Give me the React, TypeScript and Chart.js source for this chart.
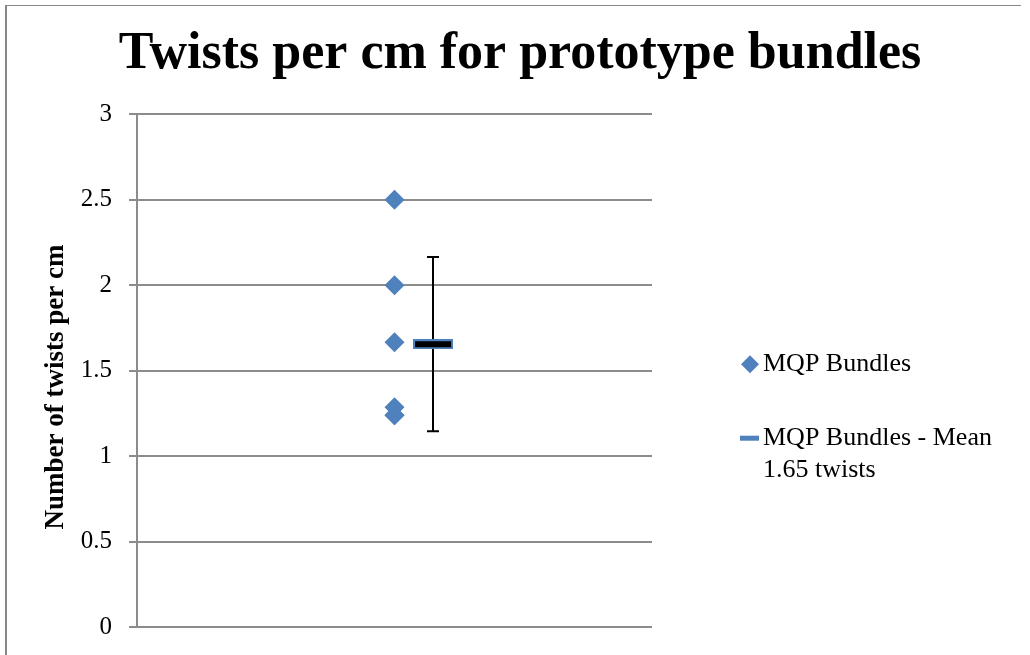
import { useEffect, useRef } from 'react';
import { Chart, registerables } from 'chart.js';

Chart.register(...registerables);

const TITLE = 'Twists per cm for prototype bundles';
const Y_TITLE = 'Number of twists per cm';
const Y_TICK_LABELS = ['0', '0.5', '1', '1.5', '2', '2.5', '3'];
const SERIES_NAMES = ['MQP Bundles', 'MQP Bundles - Mean'];
const MEAN_NOTE = '1.65 twists';

const BUNDLE_X = [1, 1, 1, 1, 1, 1];
const BUNDLE_VALUES = [2.5, 2.0, 1.667, 1.286, 1.24, 1.24];
const MEAN_X = [1.15];
const MEAN_VALUES = [1.655];
const MEAN_ERROR = [0.51];

const SERIF = '"Liberation Serif", "Times New Roman", serif';
const BLUE = '#4F81BD';
const GRID = '#8c8c8c';
const FRAME = '#878787';

function makeMeanMarker(): HTMLCanvasElement {
  const c = document.createElement('canvas');
  c.width = 40;
  c.height = 10;
  const g = c.getContext('2d')!;
  g.fillStyle = BLUE;
  g.fillRect(0, 0, 40, 10);
  g.fillStyle = '#000';
  g.fillRect(2, 2, 36, 6);
  return c;
}

const framePlugin = {
  id: 'frame',
  beforeDraw(chart: any) {
    const ctx = chart.ctx;
    ctx.save();
    ctx.fillStyle = '#fff';
    ctx.fillRect(0, 0, chart.width, chart.height);
    ctx.fillStyle = FRAME;
    ctx.fillRect(5, 5, 1016, 1);
    ctx.fillRect(5, 5, 2, chart.height);
    ctx.restore();
  },
};

const errorBarPlugin = {
  id: 'errorBars',
  beforeDatasetsDraw(chart: any) {
    const ctx = chart.ctx;
    const xs = chart.scales.x;
    const ys = chart.scales.y;
    ctx.save();
    ctx.strokeStyle = '#000';
    ctx.lineWidth = 2;
    MEAN_VALUES.forEach((m, i) => {
      const x = Math.round(xs.getPixelForValue(MEAN_X[i]));
      const yTop = ys.getPixelForValue(m + MEAN_ERROR[i]);
      const yBot = ys.getPixelForValue(m - MEAN_ERROR[i]);
      ctx.beginPath();
      ctx.moveTo(x, yTop);
      ctx.lineTo(x, yBot);
      ctx.moveTo(x - 6, yTop);
      ctx.lineTo(x + 6, yTop);
      ctx.moveTo(x - 6, yBot);
      ctx.lineTo(x + 6, yBot);
      ctx.stroke();
    });
    ctx.restore();
  },
};

const annotationsPlugin = {
  id: 'customText',
  afterDraw(chart: any) {
    const ctx = chart.ctx;
    const ca = chart.chartArea;
    ctx.save();
    // y axis title
    ctx.translate(63, 387);
    ctx.rotate(-Math.PI / 2);
    ctx.font = `bold 27px ${SERIF}`;
    ctx.fillStyle = '#000';
    ctx.textAlign = 'center';
    ctx.textBaseline = 'alphabetic';
    ctx.fillText(Y_TITLE, 0, 0);
    ctx.restore();

    // legend
    const mid = (ca.top + ca.bottom) / 2;
    const mx = ca.right + 98;
    const tx = ca.right + 111;
    const y1 = mid - 6.5;
    const y2 = mid + 67.5;
    ctx.save();
    ctx.fillStyle = BLUE;
    ctx.beginPath();
    ctx.moveTo(mx - 9, y1);
    ctx.lineTo(mx, y1 - 9);
    ctx.lineTo(mx + 9, y1);
    ctx.lineTo(mx, y1 + 9);
    ctx.closePath();
    ctx.fill();
    ctx.fillRect(mx - 10, y2 - 2.5, 19, 5);
    ctx.fillStyle = '#000';
    ctx.font = `26px ${SERIF}`;
    ctx.textAlign = 'left';
    ctx.textBaseline = 'middle';
    ctx.fillText(SERIES_NAMES[0], tx, y1);
    ctx.fillText(SERIES_NAMES[1], tx, y2);
    ctx.fillText(MEAN_NOTE, tx, y2 + 32);
    ctx.restore();
  },
};

export default function App() {
  const ref = useRef<HTMLCanvasElement | null>(null);

  useEffect(() => {
    if (!ref.current) return;
    const marker = makeMeanMarker();
    const chart = new Chart(ref.current, {
      type: 'scatter',
      data: {
        datasets: [
          {
            label: SERIES_NAMES[0],
            data: BUNDLE_VALUES.map((v, i) => ({ x: BUNDLE_X[i], y: v })),
            pointStyle: 'rectRot',
            pointRadius: 10,
            backgroundColor: BLUE,
            borderColor: BLUE,
            borderWidth: 0,
          },
          {
            label: SERIES_NAMES[1],
            data: MEAN_VALUES.map((v, i) => ({ x: MEAN_X[i], y: v })),
            pointStyle: marker as any,
            pointRadius: 5,
            backgroundColor: BLUE,
            borderColor: BLUE,
          },
        ],
      },
      options: {
        animation: false,
        responsive: false,
        layout: { padding: { left: 10, right: 0, top: 0, bottom: 28 } },
        plugins: {
          legend: { display: false },
          tooltip: { enabled: false },
          title: {
            display: true,
            text: TITLE,
            color: '#000',
            font: { family: SERIF, size: 52, weight: 'bold' },
            padding: { top: 23, bottom: 29 },
          },
        },
        scales: {
          x: { type: 'linear', min: 0, max: 2, display: false },
          y: {
            type: 'linear',
            position: 'left',
            min: 0,
            max: 3,
            ticks: {
              stepSize: 0.5,
              padding: 17,
              color: '#000',
              font: { family: SERIF, size: 25 },
              callback: (_v: any, i: number) => Y_TICK_LABELS[i],
            },
            grid: { color: GRID, lineWidth: 2, tickLength: 8 },
            border: { display: true, color: GRID, width: 2 },
            afterFit: (s: any) => {
              s.width = 127;
              s.paddingTop = 0;
              s.paddingBottom = 0;
            },
          },
          yr: {
            type: 'linear',
            position: 'right',
            display: true,
            ticks: { display: false },
            grid: { display: false, drawTicks: false },
            border: { display: false },
            afterFit: (s: any) => {
              s.width = 378;
              s.paddingTop = 0;
              s.paddingBottom = 0;
            },
          },
        },
      } as any,
      plugins: [framePlugin, errorBarPlugin, annotationsPlugin],
    });
    return () => chart.destroy();
  }, []);

  return (
    <div style={{ position: 'fixed', left: 0, top: 0, width: 1030, height: 655, background: '#fff' }}>
      <canvas ref={ref} width={1030} height={655} style={{ display: 'block' }} />
    </div>
  );
}
